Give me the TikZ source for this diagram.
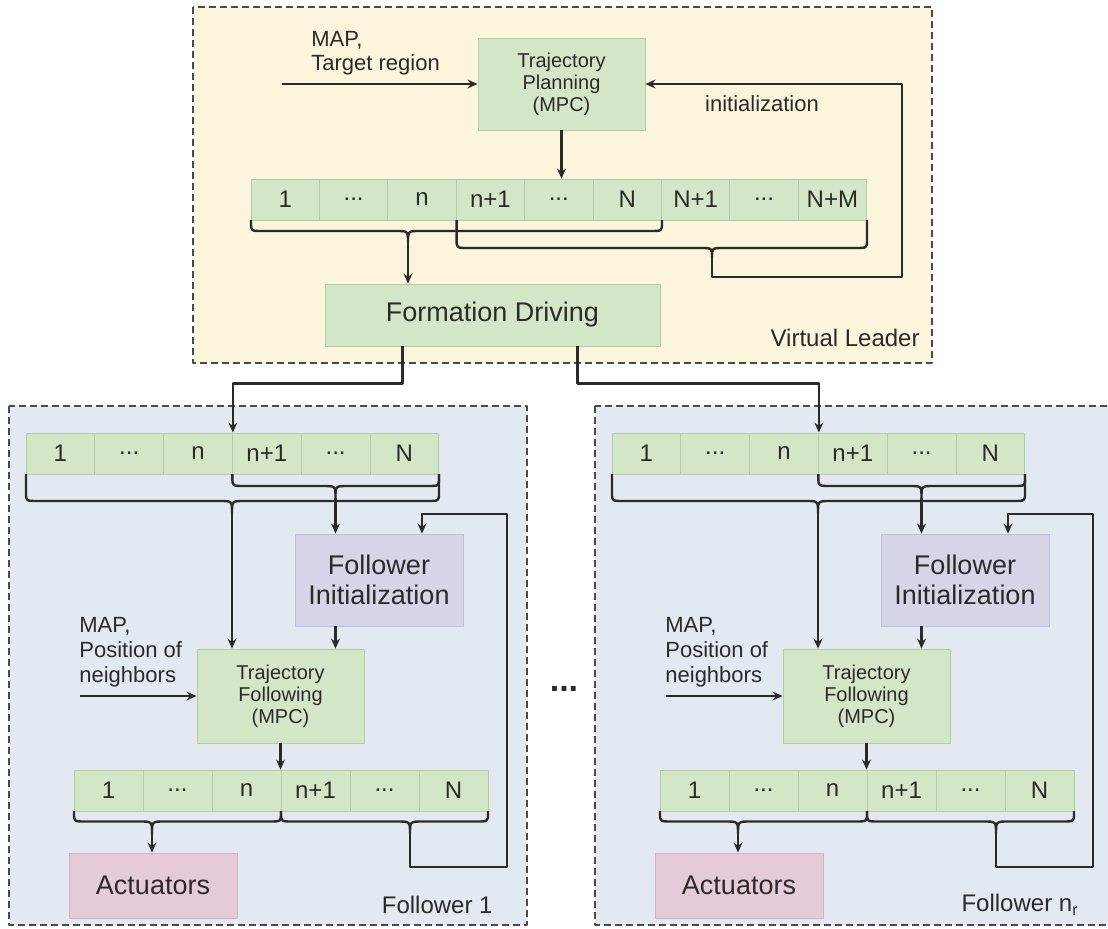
\documentclass[tikz,border=0pt]{standalone}
\usepackage{fontspec}
\setmainfont{Liberation Sans}
\usetikzlibrary{arrows.meta}

\definecolor{leaderbg}{HTML}{FBF5DC}
\definecolor{followbg}{HTML}{E2E9F1}
\definecolor{cellgreen}{HTML}{D3E7C7}
\definecolor{cellline}{HTML}{B3CCA6}
\definecolor{initblue}{HTML}{D4D6E8}
\definecolor{initline}{HTML}{BDBFD6}
\definecolor{actpink}{HTML}{E5CBD9}
\definecolor{actline}{HTML}{D2B3C4}
\definecolor{inkgray}{HTML}{2A2A2A}
\definecolor{framegray}{HTML}{4A4A4A}

\newcommand{\celldots}{...}
% brace under a row of cells: from x #1 to x #2, tip at x #3; cells end at #4, flat part at #5, tip at #6
\newcommand{\trajbrace}[6]{%
  \draw[brc] (#1,#4) -- (#1,{#5-8}) .. controls (#1,#5) .. ({#1+12},#5) -- ({#3-12},#5)
    .. controls (#3,#5) .. (#3,#6) .. controls (#3,#5) .. ({#3+12},#5) -- ({#2-12},#5)
    .. controls (#2,#5) .. (#2,{#5-8}) -- (#2,#4);}

\begin{document}
\begin{tikzpicture}[x=0.5pt,y=-0.5pt,line join=round,>={Stealth[length=5pt,width=4.4pt]},
  frame/.style={draw=framegray,line width=1.2pt,dash pattern=on 3.5pt off 2pt},
  cell/.style={draw=cellline,fill=cellgreen,text=inkgray,minimum width=34.2pt,minimum height=20.5pt,inner sep=0pt,font=\fontsize{12}{12}\selectfont},
  fcell/.style={cell,minimum width=34.45pt},
  block/.style={draw=cellline,fill=cellgreen,text=inkgray,inner sep=0pt,align=center},
  small/.style={font=\fontsize{10}{11}\selectfont},
  big/.style={font=\fontsize{13.5}{15}\selectfont},
  lbl/.style={text=inkgray,inner sep=0pt,align=left,font=\fontsize{11}{12}\selectfont},
  arr/.style={->,draw=inkgray,line width=1.2pt},
  brc/.style={draw=inkgray,line width=1.2pt}]
  \useasboundingbox (0,0) rectangle (1108,928);

  % Virtual Leader
  \draw[frame,fill=leaderbg] (193,7) rectangle (932,363);
  \node[block,small,minimum width=83.5pt,minimum height=46pt] (tp) at (561.5,84) {Trajectory\\Planning\\(MPC)};
  \foreach \t [count=\i] in {1,\celldots,n,n+1,\celldots,N,N+1,\celldots,N+M}
    \node[cell] (lc\i) at ({251+68.4*(\i-0.5)},199.5) {\t};
  \node[block,big,minimum width=167.5pt,minimum height=31pt] (fd) at (492.5,315) {Formation Driving};
  \node[lbl,anchor=west] (lmap) at (311,53) {MAP,\\Target region};
  \node[lbl] (linit) at (762,104) {initialization};
  \node[lbl,anchor=east,font=\fontsize{12}{12}\selectfont] (lname) at (920,338) {Virtual Leader};
  \coordinate (lin) at (282,84);
  \coordinate (lb1) at (408,242);
  \coordinate (lb2) at (712,257);
  \coordinate (lfb) at (902,277);
  \trajbrace{251}{662}{408}{220}{231}{242}
  \trajbrace{456.6}{867}{712}{220}{248}{257}
  \draw[arr] (lin) -- (tp.west);
  \draw[arr] (tp.south) -- (tp.south |- lc5.north);
  \draw[arr] (lb1) -- (lb1 |- fd.north);
  \draw[arr] (lb2) |- (lfb) |- (tp.east);

  % Followers
  \foreach \f/\dx/\lab in {a/0/Follower 1,b/586/Follower n\textsubscript{r}} {
    \begin{scope}[shift={(\dx,0)}]
      \draw[frame,fill=followbg] (9,406) rectangle (527,925);
      \foreach \t [count=\i] in {1,\celldots,n,n+1,\celldots,N}
        \node[fcell] (\f-t\i) at ({26+68.8*(\i-0.5)},453.5) {\t};
      \node[block,big,fill=initblue,draw=initline,minimum width=84pt,minimum height=46pt] (\f-fi) at (379,580) {Follower\\Initialization};
      \node[block,small,minimum width=83.5pt,minimum height=47pt] (\f-tf) at (280.5,696) {Trajectory\\Following\\(MPC)};
      \foreach \t [count=\i] in {1,\celldots,n,n+1,\celldots,N}
        \node[fcell] (\f-b\i) at ({74+69*(\i-0.5)},790.5) {\t};
      \node[block,big,fill=actpink,draw=actline,minimum width=84pt,minimum height=32.5pt] (\f-act) at (153,885.5) {Actuators};
      \node[lbl,anchor=west,font=\fontsize{11}{12.5}\selectfont] (\f-map) at (79,652) {MAP,\\Position of\\neighbors};
      \node[lbl,anchor=east,font=\fontsize{12}{12}\selectfont] (\f-name) at (493,905) {\lab};
      \coordinate (\f-in) at (80,696);
      \coordinate (\f-t1b) at (232,513);
      \coordinate (\f-t2b) at (335.5,498);
      \coordinate (\f-b1b) at (152,834);
      \coordinate (\f-b2b) at (410,834);
      \coordinate (\f-fb1) at (507,867);
      \coordinate (\f-fb2) at (507,514);
      \trajbrace{26}{439}{232}{474}{501}{513}
      \trajbrace{232.4}{439}{335.5}{474}{486}{498}
      \trajbrace{74}{281}{152}{811}{821.5}{834}
      \trajbrace{281}{488}{410}{811}{821.5}{834}
      \draw[arr] (\f-t1b) -- (\f-t1b |- \f-tf.north);
      \draw[arr] (\f-t2b) -- (\f-t2b |- \f-fi.north);
      \draw[arr] (\f-t2b |- \f-fi.south) -- (\f-t2b |- \f-tf.north);
      \draw[arr] (\f-in) -- (\f-tf.west);
      \draw[arr] (\f-tf.south) -- (\f-tf.south |- \f-b3.north east);
      \draw[arr] (\f-b1b) -- (\f-b1b |- \f-act.north);
      \draw[arr] (\f-b2b) |- (\f-fb1) -- (\f-fb2) -| ([xshift=21.5pt]\f-fi.north);
    \end{scope}
  }
  \draw[arr] ([xshift=-45pt]fd.south) -- ++(0,37) -| (a-t3.north east);
  \draw[arr] ([xshift=42.5pt]fd.south) -- ++(0,37) -| (b-t3.north east);
  \node[text=inkgray,font=\fontsize{17}{17}\bfseries\selectfont] (gap) at (564,689) {...};
\end{tikzpicture}
\end{document}
